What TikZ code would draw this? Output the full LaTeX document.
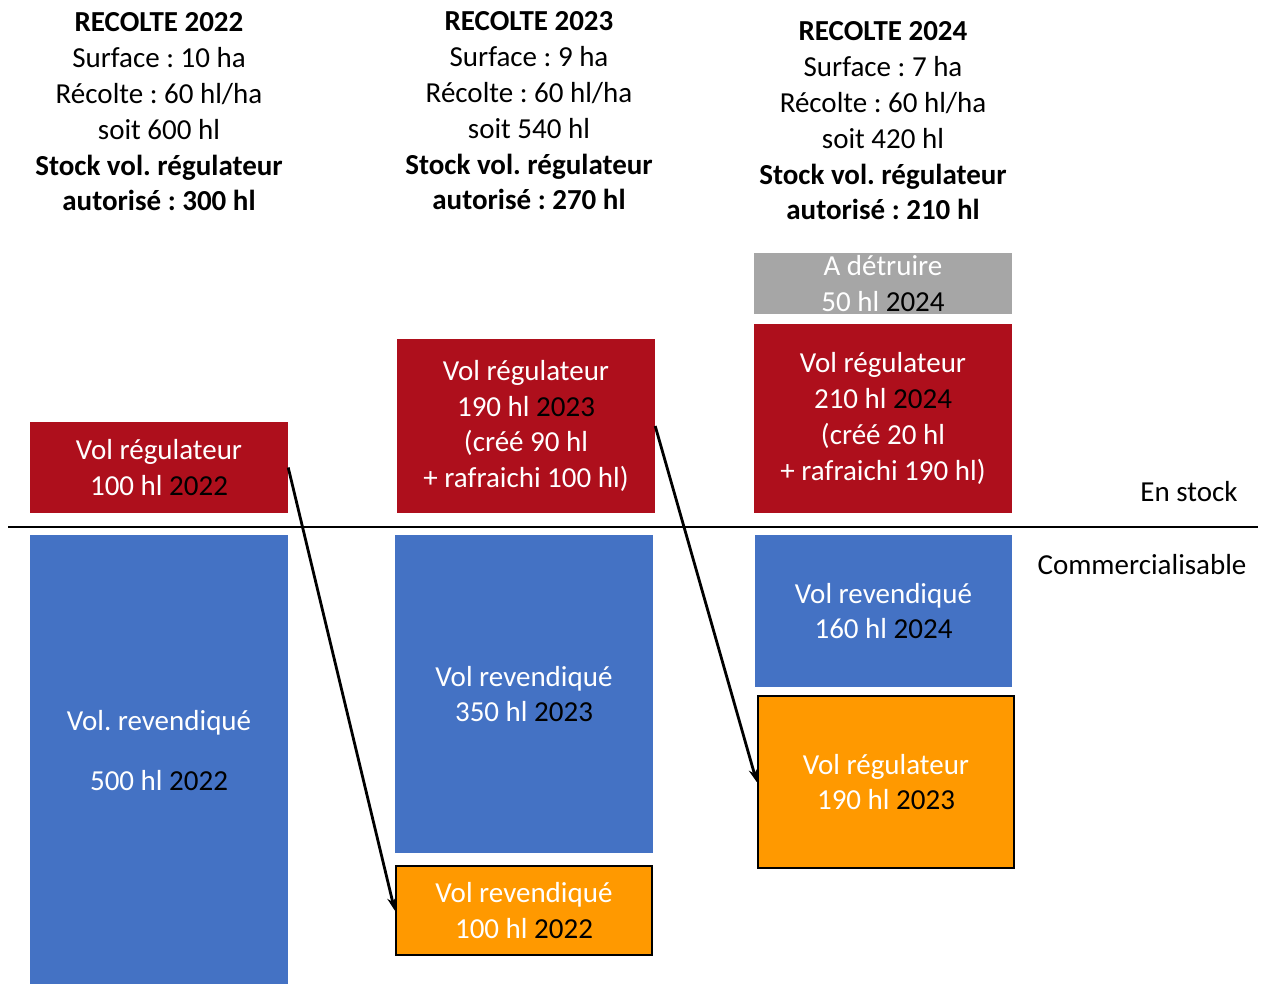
\documentclass[tikz,border=0pt]{standalone}
\usepackage{fontspec}
\setmainfont{Carlito}
\frenchspacing
\usetikzlibrary{arrows.meta}
\definecolor{regred}{HTML}{AE0F1C}
\definecolor{revblue}{HTML}{4472C4}
\definecolor{oldorange}{HTML}{FF9900}
\definecolor{destgray}{HTML}{A6A6A6}
\newcommand{\yr}[1]{\textcolor{black}{#1}}
\tikzset{
  txt/.style={align=center, inner sep=0pt, font=\fontsize{29}{35.8}\selectfont},
  box/.style={txt, rectangle, text=white},
  regbox/.style={box, fill=regred},
  revbox/.style={box, fill=revblue},
  oldbox/.style={box, fill=oldorange, draw=black, line width=2.5pt},
  gonebox/.style={box, fill=destgray},
  moveto/.style={line width=2.8pt, -{Stealth[length=13pt,width=9pt]}}
}
\begin{document}
\begin{tikzpicture}[x=1pt, y=-1pt]
  \useasboundingbox (0,0) rectangle (1261,984);

  %%%%% headers %%%%%
  \node[txt] (head22) at (159, 112) {\textbf{RECOLTE 2022}\\Surface : 10 ha\\Récolte : 60 hl/ha\\soit 600 hl\\\textbf{Stock vol. régulateur}\\\textbf{autorisé : 300 hl}};
  \node[txt] (head23) at (529, 111) {\textbf{RECOLTE 2023}\\Surface : 9 ha\\Récolte : 60 hl/ha\\soit 540 hl\\\textbf{Stock vol. régulateur}\\\textbf{autorisé : 270 hl}};
  \node[txt] (head24) at (883, 121) {\textbf{RECOLTE 2024}\\Surface : 7 ha\\Récolte : 60 hl/ha\\soit 420 hl\\\textbf{Stock vol. régulateur}\\\textbf{autorisé : 210 hl}};

  %%%%% en stock %%%%%
  \node[regbox, minimum width=258pt, minimum height=91pt] (reg22) at (159, 467.5) {Vol régulateur\\100 hl \yr{2022}};
  \node[regbox, minimum width=258pt, minimum height=174pt] (reg23) at (526, 426) {Vol régulateur\\190 hl \yr{2023}\\(créé 90 hl\\+ rafraichi 100 hl)};
  \node[gonebox, minimum width=258pt, minimum height=61pt] (gone24) at (883, 283.5) {A détruire\\50 hl \yr{2024}};
  \node[regbox, minimum width=258pt, minimum height=189pt] (reg24) at (883, 418.5) {Vol régulateur\\210 hl \yr{2024}\\(créé 20 hl\\+ rafraichi 190 hl)};

  \draw[line width=1.5pt] (8, 527) -- (1258, 527);
  \node[txt] (stock) at (1189, 492) {En stock};
  \node[txt] (comm) at (1142, 565) {Commercialisable};

  %%%%% commercialisable %%%%%
  \node[revbox, minimum width=258pt, minimum height=449pt] (rev22) at (159, 759.5) {};
  \node[txt, text=white] (rev22txt) at (159, 751) {Vol. revendiqué\\[24.2pt]500 hl \yr{2022}};
  \node[revbox, minimum width=258pt, minimum height=318pt] (rev23) at (524, 694) {Vol revendiqué\\350 hl \yr{2023}};
  \node[oldbox, minimum width=256pt, minimum height=89pt] (old22) at (524, 910.5) {Vol revendiqué\\100 hl \yr{2022}};
  \node[revbox, minimum width=257pt, minimum height=152pt] (rev24) at (883.5, 611) {Vol revendiqué\\160 hl \yr{2024}};
  \node[oldbox, minimum width=256pt, minimum height=172pt] (old23) at (886, 782) {Vol régulateur\\190 hl \yr{2023}};

  %%%%% transferts %%%%%
  \draw[moveto] (reg22.east) -- (old22.west);
  \draw[moveto] (reg23.east) -- (old23.west);
\end{tikzpicture}
\end{document}
